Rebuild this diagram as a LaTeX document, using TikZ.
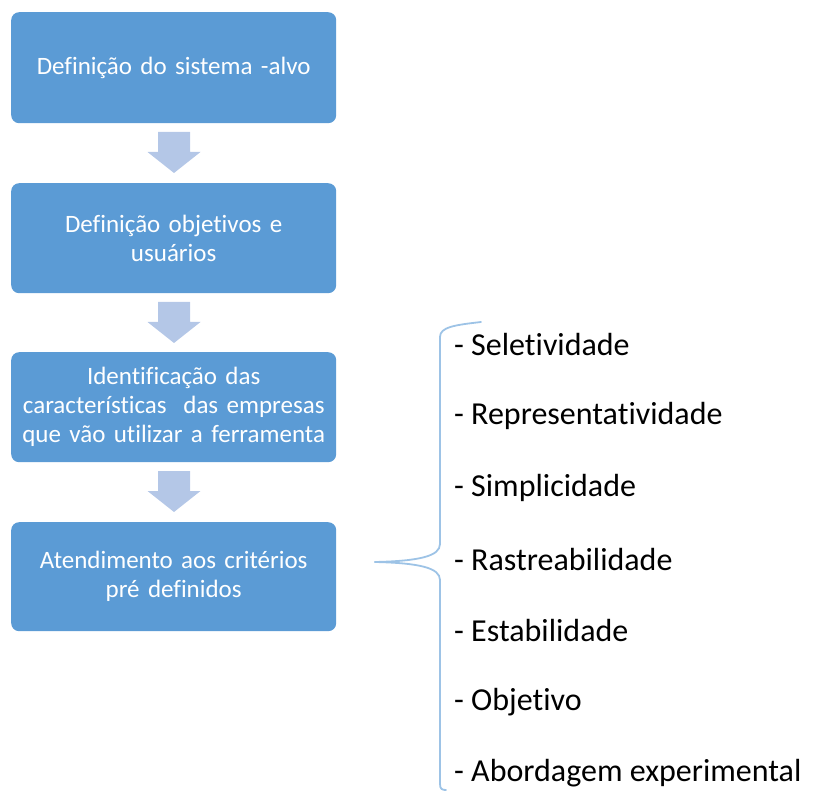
\documentclass[tikz,border=0pt]{standalone}
\usepackage{fontspec}
\setmainfont[Ligatures=NoCommon]{Carlito}
\definecolor{boxblue}{RGB}{91,155,213}
\definecolor{arrowblue}{RGB}{180,199,231}
\definecolor{bracecol}{RGB}{157,195,230}
\begin{document}
\begin{tikzpicture}[x=1pt,y=-1pt,
  stepbox/.style={fill=boxblue, rounded corners=8pt, minimum width=325pt, anchor=north west,
    text=white, align=center, font=\fontsize{25}{29}\selectfont, inner sep=0pt, text width=320pt},
  listitem/.style={anchor=west, font=\fontsize{32}{36}\selectfont, inner sep=0pt},
  downarrow/.pic={\fill[arrowblue] (-16,0) -- (16,0) -- (16,20) -- (26.5,20) -- (0,41) -- (-26.5,20) -- (-16,20) -- cycle;}
]
\useasboundingbox (0,0) rectangle (814,791);
\node[stepbox, minimum height=111pt] (b1) at (11,12) {Definição do sistema -alvo};
\node[stepbox, minimum height=110pt] (b2) at (11,183) {Definição objetivos e\\usuários};
\node[stepbox, minimum height=110pt] (b3) at (11,352) {Identificação das\\características\ \ das empresas\\que vão utilizar a ferramenta};
\node[stepbox, minimum height=109pt] (b4) at (11,522) {Atendimento\ aos critérios\\pré definidos};
\pic at (174,132) {downarrow};
\pic at (174,302) {downarrow};
\pic at (174,471) {downarrow};
% brace
\draw[bracecol, line width=1.8pt, line cap=round]
  (481,322) .. controls (455,325) and (440,327) .. (440,337)
  -- (440,544) .. controls (440,556) and (420,561) .. (375,562);
\draw[bracecol, line width=1.8pt, line cap=round]
  (375,562) .. controls (420,563) and (440,568) .. (440,580)
  -- (440,784) .. controls (440,789) and (442,790) .. (446,790);
\node[listitem] (l1) at (454,345) {- Seletividade};
\node[listitem] (l2) at (454,416) {- Representatividade};
\node[listitem] (l3) at (454,488) {- Simplicidade};
\node[listitem] (l4) at (454,560) {- Rastreabilidade};
\node[listitem] (l5) at (454,631) {- Estabilidade};
\node[listitem] (l6) at (454,702) {- Objetivo};
\node[listitem] (l7) at (454,773) {- Abordagem experimental};
\end{tikzpicture}
\end{document}
